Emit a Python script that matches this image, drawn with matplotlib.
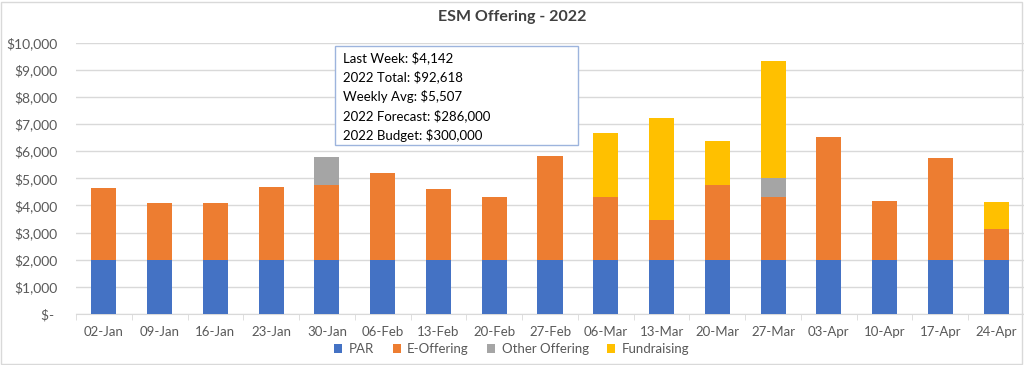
# ESM Offering 2022 - weekly stacked bars

import numpy as np
import matplotlib.pyplot as plt
from matplotlib.patches import Rectangle
from matplotlib.ticker import FuncFormatter

plt.rcParams['font.family'] = ['Lato', 'DejaVu Sans']

# data
weeks = ['02-Jan', '09-Jan', '16-Jan', '23-Jan', '30-Jan', '06-Feb', '13-Feb', '20-Feb', '27-Feb',
         '06-Mar', '13-Mar', '20-Mar', '27-Mar', '03-Apr', '10-Apr', '17-Apr', '24-Apr']
par = [2000] * 17
eOffering = [2650, 2080, 2080, 2690, 2770, 3200, 2590, 2330, 3840,
             2320, 1470, 2770, 2320, 4510, 2180, 3750, 1140]
otherOffering = [0, 0, 0, 0, 1000, 0, 0, 0, 0,
                 0, 0, 0, 710, 0, 0, 0, 0]
fundraising = [0, 0, 0, 0, 0, 0, 0, 0, 0,
               2350, 3750, 1610, 4310, 0, 0, 0, 1002]
seriesNames = ['PAR', 'E-Offering', 'Other Offering', 'Fundraising']
summaryLines = ['Last Week: $4,142', '2022 Total: $92,618', 'Weekly Avg: $5,507',
                '2022 Forecast: $286,000', '2022 Budget: $300,000']

colors = ['#4472C4', '#ED7D31', '#A5A5A5', '#FFC000']
txtGray = '#595959'

fig = plt.figure(figsize=(10.24, 3.65), dpi=100)
ax = fig.add_axes([76 / 1024, 1 - 314 / 365, 948 / 1024, (314 - 42.7) / 365])

x = np.arange(len(weeks))
bottom = np.zeros(len(weeks))
for vals, name, col in zip([par, eOffering, otherOffering, fundraising], seriesNames, colors):
    ax.bar(x, vals, width=0.45, bottom=bottom, color=col, label=name, zorder=3)
    bottom += np.array(vals)

ax.set_xlim(-0.5, len(weeks) - 0.5)
ax.set_ylim(0, 10000)
ax.set_yticks(range(0, 10001, 1000))
ax.yaxis.set_major_formatter(FuncFormatter(lambda v, p: '$- ' if v == 0 else '${:,.0f}'.format(v)))
ax.grid(axis='y', color='#D9D9D9', linewidth=1, zorder=0)

ax.set_xticks(x)
ax.set_xticklabels(weeks)
ax.set_xticks(np.arange(-0.5, len(weeks)), minor=True)
ax.tick_params(axis='x', which='major', length=0, pad=9, labelsize=9.5, labelcolor=txtGray)
ax.tick_params(axis='x', which='minor', length=4, color='#D9D9D9')
ax.tick_params(axis='y', length=0, pad=13.5, labelsize=10, labelcolor=txtGray)

for s in ['top', 'right', 'left']:
    ax.spines[s].set_visible(False)
ax.spines['bottom'].set_color('#D9D9D9')

# title
fig.text(0.5, 1 - 17 / 365, 'ESM Offering - 2022', ha='center', va='center',
         fontsize=11.5, fontweight='bold', color='#404040')

# summary box
fig.patches.append(Rectangle((335 / 1024, 1 - 145 / 365), 243 / 1024, 99 / 365,
                             transform=fig.transFigure, facecolor='white',
                             edgecolor='#9DB4DD', linewidth=1, zorder=5))
fig.text(343 / 1024, 1 - 51 / 365, '\n'.join(summaryLines), ha='left', va='top',
         fontsize=9.5, color='black', linespacing=1.6, zorder=6)

# legend
fig.legend(loc='center', bbox_to_anchor=(0.5, 1 - 349 / 365), ncol=4, frameon=False,
           fontsize=9.5, labelcolor=txtGray, handlelength=0.6, handleheight=0.6,
           handletextpad=0.5, columnspacing=1.4)

# outer border
fig.patches.append(Rectangle((1 / 1024, 1 / 365), 1021 / 1024, 362 / 365,
                             transform=fig.transFigure, fill=False,
                             edgecolor='#D9D9D9', linewidth=1))

plt.savefig('out.png', dpi=100)
